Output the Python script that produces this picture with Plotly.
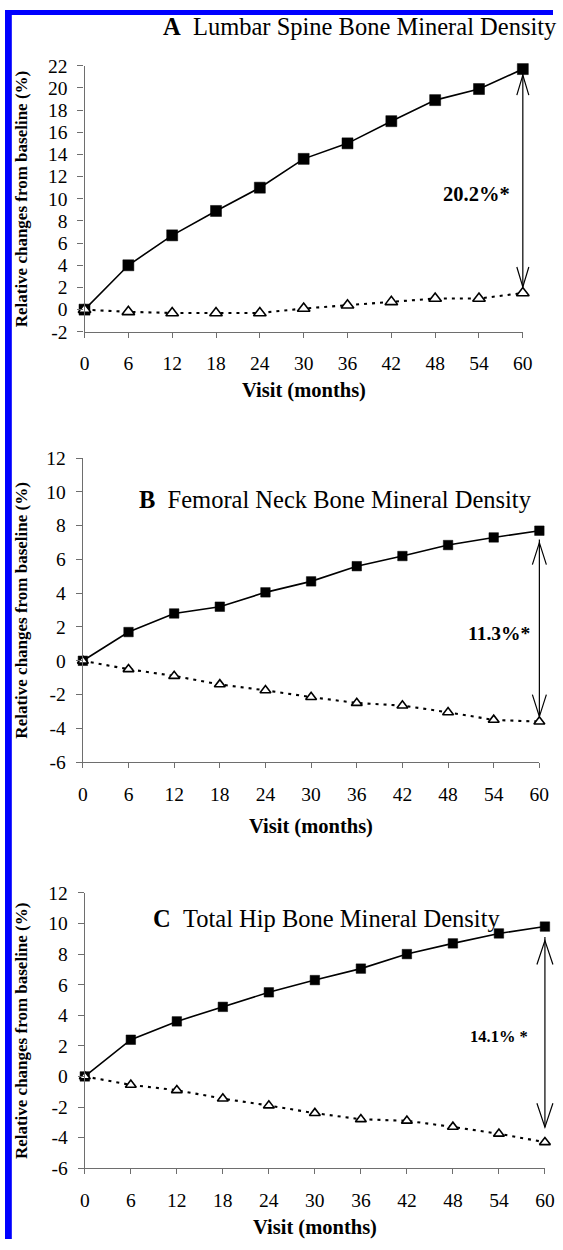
import plotly.graph_objects as go

# ---- data -------------------------------------------------------------
months = [0, 6, 12, 18, 24, 30, 36, 42, 48, 54, 60]

spine_treated = [0, 4.0, 6.7, 8.9, 11.0, 13.6, 15.0, 17.0, 18.9, 19.9, 21.7]
spine_control = [0, -0.2, -0.3, -0.3, -0.3, 0.1, 0.4, 0.7, 1.0, 1.0, 1.5]

neck_treated = [0, 1.7, 2.8, 3.2, 4.05, 4.7, 5.6, 6.2, 6.85, 7.3, 7.7]
neck_control = [0, -0.5, -0.9, -1.4, -1.75, -2.15, -2.5, -2.65, -3.05, -3.5, -3.6]

hip_treated = [0, 2.4, 3.6, 4.55, 5.5, 6.3, 7.05, 8.0, 8.7, 9.35, 9.8]
hip_control = [0, -0.55, -0.9, -1.45, -1.9, -2.4, -2.8, -2.9, -3.3, -3.75, -4.3]

spine_yticks = [-2, 0, 2, 4, 6, 8, 10, 12, 14, 16, 18, 20, 22]
hip_yticks = [-6, -4, -2, 0, 2, 4, 6, 8, 10, 12]

titles = [
    ("A", "Lumbar Spine Bone Mineral Density"),
    ("B", "Femoral Neck Bone Mineral Density"),
    ("C", "Total Hip Bone Mineral Density"),
]
difference_labels = ["20.2%*", "11.3%*", "14.1% *"]
x_title = "Visit (months)"
y_title = "Relative changes from baseline (%)"

# ---- page geometry (pixels) ------------------------------------------
W, H = 563, 1250
SERIF = "Liberation Serif"
AXIS_GREY = "#6e6e6e"

panels = [
    dict(treated=spine_treated, control=spine_control, yticks=spine_yticks,
         left=81.7, right=532, top=56.7, bottom=327.3,
         title_xy=(160, 17), title_size=24.5,
         label_xy=(58.5, 10.4), label_size=20.5,
         xtitle_y=387, sq_size=11, tri_size=11,
         gap_top=6, gap_bot=6, head_len=20, head_hw=6),
    dict(treated=neck_treated, control=neck_control, yticks=hip_yticks,
         left=80, right=549, top=455.7, bottom=765,
         title_xy=(136, 498), title_size=24.5,
         label_xy=(59.0, 1.6), label_size=19.5,
         xtitle_y=830, sq_size=9.5, tri_size=9.5,
         gap_top=12, gap_bot=5, head_len=22, head_hw=7),
    dict(treated=hip_treated, control=hip_control, yticks=hip_yticks,
         left=82, right=554.7, top=898, bottom=1178,
         title_xy=(150, 924), title_size=24.5,
         label_xy=(58.0, 2.6), label_size=16.5,
         xtitle_y=1238, sq_size=9.5, tri_size=9.5,
         gap_top=14, gap_bot=15, head_len=24, head_hw=8),
]

fig = go.Figure()
annotations = []
shapes = []

for i, p in enumerate(panels):
    n = "" if i == 0 else str(i + 1)
    xref, yref = "x" + n, "y" + n

    # treated group: filled squares, solid line
    fig.add_trace(go.Scatter(
        x=months, y=p["treated"], xaxis=xref, yaxis=yref,
        mode="lines+markers", cliponaxis=False,
        line=dict(color="black", width=1.6),
        marker=dict(symbol="square", size=p["sq_size"], color="black",
                    line=dict(color="black", width=0.5)),
        hoverinfo="skip"))
    # control group: open triangles, dotted line
    fig.add_trace(go.Scatter(
        x=months, y=p["control"], xaxis=xref, yaxis=yref,
        mode="lines+markers", cliponaxis=False,
        line=dict(color="black", width=2.1, dash="3px,5px"),
        marker=dict(symbol="triangle-up", size=p["tri_size"], color="white",
                    line=dict(color="black", width=1.6)),
        hoverinfo="skip"))

    axis_common = dict(
        showgrid=False, zeroline=False, showline=True,
        linecolor=AXIS_GREY, linewidth=1.3,
        ticks="outside", tickcolor=AXIS_GREY, tickwidth=1.3,
        tickfont=dict(family=SERIF, size=19.5, color="black"),
        fixedrange=True,
    )
    fig.update_layout({
        "xaxis" + n: dict(
            axis_common, anchor=yref, range=[0, 60],
            domain=[p["left"] / W, p["right"] / W],
            tickvals=months, ticktext=[str(m) for m in months],
            ticklen=5, ticklabelstandoff=9),
        "yaxis" + n: dict(
            axis_common, anchor=xref,
            range=[p["yticks"][0], p["yticks"][-1]],
            domain=[1 - p["bottom"] / H, 1 - p["top"] / H],
            tickvals=p["yticks"], ticktext=[str(v) for v in p["yticks"]],
            ticklen=6, ticklabelstandoff=6),
    })

    # panel heading
    letter, name = titles[i]
    annotations.append(dict(
        xref="paper", yref="paper",
        x=p["title_xy"][0] / W, y=1 - p["title_xy"][1] / H,
        xanchor="left", yanchor="middle", showarrow=False,
        text="<b>" + letter + "</b>\u00a0\u00a0" + name,
        font=dict(family=SERIF, size=p["title_size"], color="black")))

    # axis titles
    annotations.append(dict(
        xref="paper", yref="paper",
        x=(p["left"] + p["right"]) / 2 / W, y=1 - p["xtitle_y"] / H,
        xanchor="center", yanchor="middle", showarrow=False,
        text="<b>" + x_title + "</b>",
        font=dict(family=SERIF, size=20.5, color="black")))
    annotations.append(dict(
        xref="paper", yref="paper",
        x=17 / W, y=1 - (p["top"] + p["bottom"]) / 2 / H,
        xanchor="center", yanchor="middle", showarrow=False, textangle=-90,
        text="<b>" + y_title + "</b>",
        font=dict(family=SERIF, size=17, color="black")))

    # difference at 60 months: label and double-headed arrow
    annotations.append(dict(
        xref=xref, yref=yref, x=p["label_xy"][0], y=p["label_xy"][1],
        xanchor="right", yanchor="middle", showarrow=False,
        text="<b>" + difference_labels[i] + "</b>",
        font=dict(family=SERIF, size=p["label_size"], color="black")))

    # the arrow sits on the right edge of the plot area, so it is placed
    # with domain references (not clipped) and pixel offsets
    y_lo, y_hi = p["yticks"][0], p["yticks"][-1]
    frac_top = (p["treated"][-1] - y_lo) / (y_hi - y_lo)
    frac_bot = (p["control"][-1] - y_lo) / (y_hi - y_lo)
    x_frac = (months[-1] - 0) / (60 - 0)
    px_per_unit = (p["bottom"] - p["top"]) / (y_hi - y_lo)
    span_px = (p["treated"][-1] - p["control"][-1]) * px_per_unit
    L, hw = p["head_len"], p["head_hw"]
    gt, gb = p["gap_top"], p["gap_bot"]
    arrow_line = dict(color="black", width=1.2)
    common = dict(type="path", xref=xref + " domain", yref=yref + " domain",
                  xsizemode="pixel", ysizemode="pixel", xanchor=x_frac,
                  line=arrow_line, layer="above")
    shapes.append(dict(common, yanchor=frac_bot,
                       path=f"M0,{gb} L0,{span_px - gt:.2f}"))
    shapes.append(dict(common, yanchor=frac_top,
                       path=f"M{-hw},{-(gt + L)} L0,{-gt} L{hw},{-(gt + L)}"))
    shapes.append(dict(common, yanchor=frac_bot,
                       path=f"M{-hw},{gb + L} L0,{gb} L{hw},{gb + L}"))

# blue page frame on the left and top edges
shapes.append(dict(type="rect", xref="paper", yref="paper",
                   x0=0, x1=7 / W, y0=0, y1=1,
                   fillcolor="#0000ff", line=dict(width=0), layer="above"))
shapes.append(dict(type="rect", xref="paper", yref="paper",
                   x0=0, x1=1, y0=1 - 5 / H, y1=1,
                   fillcolor="#0000ff", line=dict(width=0), layer="above"))

fig.update_layout(
    width=W, height=H,
    margin=dict(l=0, r=0, t=0, b=0),
    paper_bgcolor="white", plot_bgcolor="white",
    showlegend=False,
    annotations=annotations,
    shapes=shapes,
)

fig.write_html("out.html")
